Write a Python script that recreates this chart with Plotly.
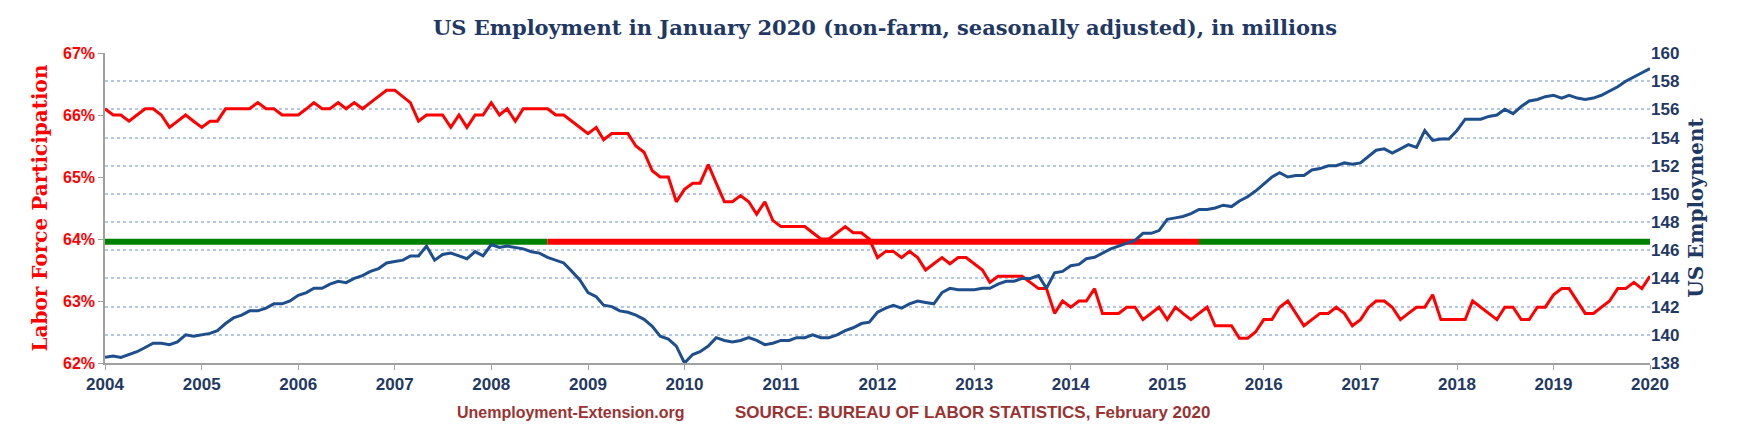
import plotly.graph_objects as go
import pandas as pd

dates = pd.date_range("2004-01-01", "2020-01-01", freq="MS")

lfpr = [66.1,66.0,66.0,65.9,66.0,66.1,66.1,66.0,65.8,65.9,66.0,65.9,
        65.8,65.9,65.9,66.1,66.1,66.1,66.1,66.2,66.1,66.1,66.0,66.0,
        66.0,66.1,66.2,66.1,66.1,66.2,66.1,66.2,66.1,66.2,66.3,66.4,
        66.4,66.3,66.2,65.9,66.0,66.0,66.0,65.8,66.0,65.8,66.0,66.0,
        66.2,66.0,66.1,65.9,66.1,66.1,66.1,66.1,66.0,66.0,65.9,65.8,
        65.7,65.8,65.6,65.7,65.7,65.7,65.5,65.4,65.1,65.0,65.0,64.6,
        64.8,64.9,64.9,65.2,64.9,64.6,64.6,64.7,64.6,64.4,64.6,64.3,
        64.2,64.2,64.2,64.2,64.1,64.0,64.0,64.1,64.2,64.1,64.1,64.0,
        63.7,63.8,63.8,63.7,63.8,63.7,63.5,63.6,63.7,63.6,63.7,63.7,
        63.6,63.5,63.3,63.4,63.4,63.4,63.4,63.3,63.2,63.2,62.8,63.0,
        62.9,63.0,63.0,63.2,62.8,62.8,62.8,62.9,62.9,62.7,62.8,62.9,
        62.7,62.9,62.8,62.7,62.8,62.9,62.6,62.6,62.6,62.4,62.4,62.5,
        62.7,62.7,62.9,63.0,62.8,62.6,62.7,62.8,62.8,62.9,62.8,62.6,
        62.7,62.9,63.0,63.0,62.9,62.7,62.8,62.9,62.9,63.1,62.7,62.7,
        62.7,62.7,63.0,62.9,62.8,62.7,62.9,62.9,62.7,62.7,62.9,62.9,
        63.1,63.2,63.2,63.0,62.8,62.8,62.9,63.0,63.2,63.2,63.3,63.2,
        63.4]

employment = [138.4,138.5,138.4,138.6,138.8,139.1,139.4,139.4,139.3,139.5,140.0,139.9,
              140.0,140.1,140.3,140.8,141.2,141.4,141.7,141.7,141.9,142.2,142.2,142.4,
              142.8,143.0,143.3,143.3,143.6,143.8,143.7,144.0,144.2,144.5,144.7,145.1,
              145.2,145.3,145.6,145.6,146.3,145.3,145.7,145.8,145.6,145.4,145.9,145.6,
              146.4,146.2,146.3,146.2,146.1,145.9,145.8,145.5,145.3,145.1,144.5,143.9,
              143.0,142.7,142.1,142.0,141.7,141.6,141.4,141.1,140.6,139.9,139.7,139.2,
              138.0,138.6,138.8,139.2,139.8,139.6,139.5,139.6,139.8,139.6,139.3,139.4,
              139.6,139.6,139.8,139.8,140.0,139.8,139.8,140.0,140.3,140.5,140.8,140.9,
              141.6,141.9,142.1,141.9,142.2,142.4,142.3,142.2,143.0,143.3,143.2,143.2,
              143.2,143.3,143.3,143.6,143.8,143.8,144.0,144.0,144.2,143.3,144.4,144.5,
              144.9,145.0,145.4,145.5,145.8,146.1,146.3,146.5,146.7,147.2,147.2,147.4,
              148.2,148.3,148.4,148.6,148.9,148.9,149.0,149.2,149.1,149.5,149.8,150.2,
              150.7,151.2,151.5,151.2,151.3,151.3,151.7,151.8,152.0,152.0,152.2,152.1,
              152.2,152.7,153.1,153.2,152.9,153.2,153.5,153.3,154.5,153.8,153.9,153.9,
              154.5,155.3,155.3,155.3,155.5,155.6,156.0,155.7,156.2,156.6,156.7,156.9,
              157.0,156.8,157.0,156.8,156.7,156.8,157.0,157.3,157.6,158.0,158.3,158.6,
              158.9]

threshold = 146.6
seg_x = [["2004-01-01", "2008-08-01"], ["2008-08-01", "2015-05-01"], ["2015-05-01", "2020-01-01"]]
seg_colors = ["#008000", "#ff0000", "#008000"]

fig = go.Figure()
for xs, c in zip(seg_x, seg_colors):
    fig.add_trace(go.Scatter(x=xs, y=[threshold, threshold], yaxis="y2", mode="lines",
                             line=dict(color=c, width=6), showlegend=False, hoverinfo="skip"))
fig.add_trace(go.Scatter(x=dates, y=lfpr, mode="lines", line=dict(color="#ff0000", width=3),
                         name="Labor Force Participation", showlegend=False))
fig.add_trace(go.Scatter(x=dates, y=employment, yaxis="y2", mode="lines",
                         line=dict(color="#1f4e8c", width=3), name="US Employment", showlegend=False))

navy = "#1f3864"
fig.update_layout(
    width=1754, height=427, paper_bgcolor="white", plot_bgcolor="white",
    margin=dict(l=97, r=112, t=45, b=72),
    title=dict(text="<b>US Employment in January 2020 (non-farm, seasonally adjusted), in millions</b>",
               x=0.5, xanchor="center", y=0.955, yanchor="middle",
               font=dict(family="DejaVu Serif", size=21, color=navy)),
    xaxis=dict(range=["2004-01-01", "2020-01-01"], dtick="M12", tick0="2004-01-01", tickformat="%Y",
               showgrid=False, showline=True, linecolor="#a0a0a0", linewidth=1.5,
               ticks="outside", tickcolor="#a0a0a0",
               tickfont=dict(family="Liberation Sans", size=17, color=navy, weight="bold")),
    yaxis=dict(range=[62, 67], dtick=1, ticksuffix="%", showgrid=False, zeroline=False,
               showline=True, linecolor="#a0a0a0", linewidth=1.5, ticks="outside", tickcolor="#a0a0a0",
               tickfont=dict(family="Liberation Sans", size=16, color="#ff0000", weight="bold"),
               title=dict(text="<b>Labor Force Participation</b>", standoff=10,
                          font=dict(family="DejaVu Serif", size=20, color="#ff0000"))),
    yaxis2=dict(range=[138, 160], dtick=2, overlaying="y", side="right", zeroline=False,
                showgrid=True, gridcolor="#b4c7e7", griddash="dot", gridwidth=1.5,
                tickfont=dict(family="Liberation Sans", size=17, color=navy, weight="bold"),
                title=dict(text="<b>US Employment</b>", standoff=10,
                           font=dict(family="DejaVu Serif", size=20, color=navy))),
)
fig.add_annotation(text="<b>Unemployment-Extension.org</b>", xref="paper", yref="paper",
                   x=0.2265, y=-0.16, xanchor="left", yanchor="middle", showarrow=False,
                   font=dict(family="Liberation Sans", size=16, color="#9b3232"))
fig.add_annotation(text="<b>SOURCE: BUREAU OF LABOR STATISTICS, February 2020</b>", xref="paper", yref="paper",
                   x=0.4065, y=-0.16, xanchor="left", yanchor="middle", showarrow=False,
                   font=dict(family="Liberation Sans", size=17, color="#9b3232"))
fig.write_html("out.html")
